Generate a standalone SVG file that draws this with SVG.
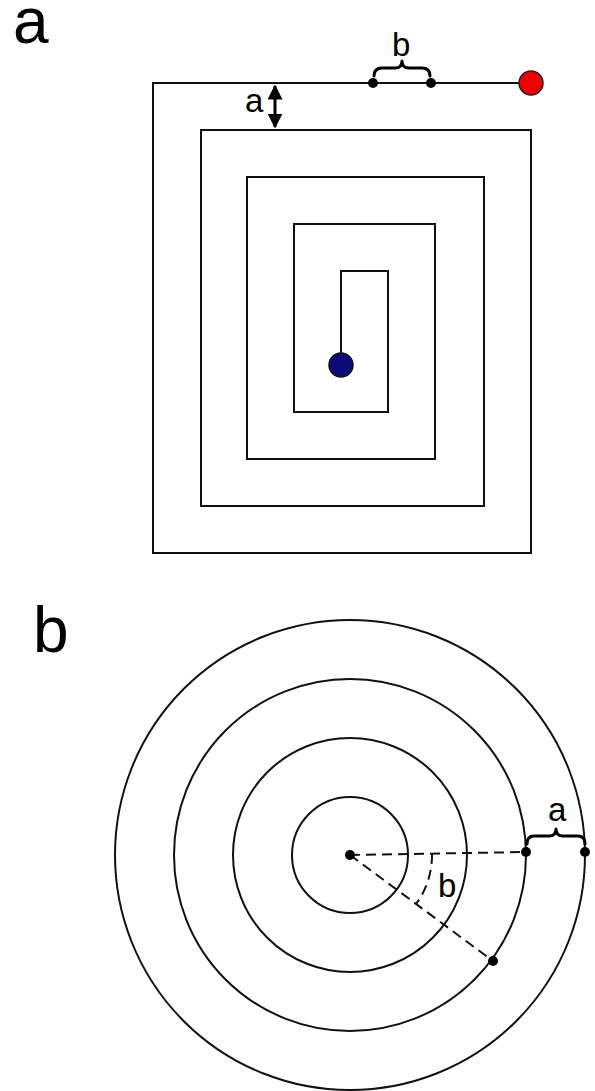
<svg xmlns="http://www.w3.org/2000/svg" width="595" height="1091" viewBox="0 0 595 1091">
<style>
.ln{fill:none;stroke:#111;stroke-width:2}
.br{fill:none;stroke:#000;stroke-width:3;stroke-linecap:round;stroke-linejoin:round}
.ds{fill:none;stroke:#111;stroke-width:2;stroke-dasharray:10 6}
.dot{fill:#000}
.big{font-family:"Liberation Sans",Arial,sans-serif;font-size:64px;fill:#000}
.lbl{font-family:"Liberation Sans",Arial,sans-serif;font-size:33px;fill:#000}
</style>
<defs>
<marker id="ah" viewBox="0 0 10 10" refX="9" refY="5" markerWidth="5" markerHeight="5" orient="auto-start-reverse" markerUnits="strokeWidth">
<path d="M0,0 L10,5 L0,10 z" fill="#000"/>
</marker>
</defs>
<rect width="595" height="1091" fill="#fff"/>
<text class="big" x="13" y="43">a</text>
<text class="big" x="33" y="652">b</text>
<g id="spiral">
<path class="ln" d="M531 83 L153 83 L153 553 L531 553 L531 130 L201 130 L201 506 L484 506 L484 177 L247 177 L247 459 L435 459 L435 224 L294 224 L294 412 L388 412 L388 271 L341 271 L341 365"/>
</g>
<g id="start">
<circle cx="531" cy="83" r="12" fill="#ee0000" stroke="#222" stroke-width="1.5"/>
</g>
<g id="end">
<circle cx="341" cy="365" r="12" fill="#0c0a7a" stroke="#111" stroke-width="1.5"/>
</g>
<g id="annot-a">
<line x1="275" y1="86" x2="275" y2="127" stroke="#000" stroke-width="3" marker-start="url(#ah)" marker-end="url(#ah)"/>
<text class="lbl" x="245" y="112">a</text>
</g>
<g id="annot-b">
<path class="br" d="M374 76 Q374 68 382 68 L395 68 Q402 68 402 61 Q402 68 409 68 L422 68 Q430 68 430 76"/>
<circle class="dot" cx="373" cy="83" r="5"/>
<circle class="dot" cx="431" cy="83" r="5"/>
<text class="lbl" x="392" y="56">b</text>
</g>
<g id="circles">
<circle class="ln" cx="350" cy="855" r="58"/>
<circle class="ln" cx="350" cy="855" r="117"/>
<circle class="ln" cx="350" cy="855" r="176"/>
<circle class="ln" cx="350" cy="855" r="235"/>
</g>
<g id="connectors">
<line class="ds" x1="350" y1="855" x2="526" y2="852"/>
<line class="ds" x1="350" y1="855" x2="493" y2="961"/>
<path class="ds" d="M432 854 A82 82 0 0 1 416 904" stroke-dasharray="8 6"/>
</g>
<g id="annot-b2">
<circle class="dot" cx="350" cy="855" r="5"/>
<circle class="dot" cx="526" cy="852" r="5"/>
<circle class="dot" cx="585" cy="852" r="5"/>
<circle class="dot" cx="493" cy="961" r="5"/>
<path class="br" d="M527 844 Q527 836 534 836 L549 836 Q556 836 556 829 Q556 836 563 836 L578 836 Q585 836 585 844"/>
<text class="lbl" x="548" y="821">a</text>
<text class="lbl" x="438" y="897">b</text>
</g>
</svg>
